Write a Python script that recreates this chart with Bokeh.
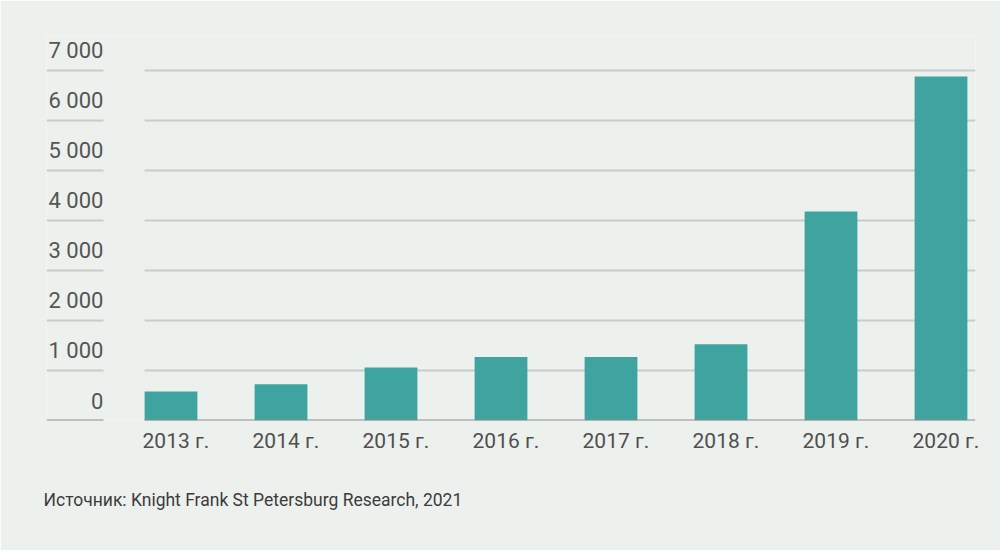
from bokeh.plotting import figure
from bokeh.models import Range1d, ColumnDataSource, FixedTicker, Title
from bokeh.core.properties import value
from bokeh.embed import file_html
from bokeh.resources import INLINE

years = ["2013 г.", "2014 г.", "2015 г.", "2016 г.", "2017 г.", "2018 г.", "2019 г.", "2020 г."]
values = [580, 725, 1060, 1270, 1270, 1525, 4180, 6880]
y_ticks = [0, 1000, 2000, 3000, 4000, 5000, 6000, 7000]
y_tick_labels = ["0", "1 000", "2 000", "3 000", "4 000", "5 000", "6 000", "7 000"]
source_text = "Источник: Knight Frank St Petersburg Research, 2021"

BG = "#edf1ee"
BAR = "#3fa3a0"
FONT = "Roboto"

x_idx = list(range(len(years)))
x_start, x_end = -1.1318, 7.3136
lab_right = -0.614
grid_left = -0.24
label_shift = 0.045

p = figure(width=1000, height=550, output_backend="svg", toolbar_location=None,
           x_range=Range1d(x_start, x_end), y_range=Range1d(0, 7680),
           y_axis_location=None, min_border_left=46, min_border_right=25,
           min_border_top=36, min_border_bottom=130)
p.background_fill_color = BG
p.border_fill_color = BG
p.outline_line_color = None
p.xgrid.visible = False
p.ygrid.visible = False

# grid lines (two pieces: under labels and across plot)
grid_src = ColumnDataSource(dict(
    y=y_ticks[1:],
    xa0=[x_start] * (len(y_ticks) - 1), xa1=[lab_right] * (len(y_ticks) - 1),
    xb0=[grid_left] * (len(y_ticks) - 1), xb1=[x_end] * (len(y_ticks) - 1)))
p.segment(x0="xa0", x1="xa1", y0="y", y1="y", source=grid_src, line_color="#c8cbca", line_width=2)
p.segment(x0="xb0", x1="xb1", y0="y", y1="y", source=grid_src, line_color="#c8cbca", line_width=2)

bars = ColumnDataSource(dict(x=x_idx, top=values))
p.vbar(x="x", top="top", bottom=0, width=0.48, source=bars, fill_color=BAR, line_color=None)

# baseline
base_src = ColumnDataSource(dict(x0=[x_start, grid_left], x1=[lab_right, x_end], y=[0, 0]))
p.segment(x0="x0", x1="x1", y0="y", y1="y", source=base_src, line_color="#8c8c8c", line_width=2)

# y tick labels above grid lines
lab_src = ColumnDataSource(dict(x=[lab_right] * len(y_ticks), y=y_ticks, t=y_tick_labels))
p.text(x="x", y="y", text="t", source=lab_src, text_align="right", text_baseline="alphabetic",
       y_offset=-20, text_font=value(FONT), text_font_size="22px", text_color="#555555")

# x axis
ticks = [i + label_shift for i in x_idx]
p.xaxis.ticker = FixedTicker(ticks=ticks)
p.xaxis.major_label_overrides = {t: y for t, y in zip(ticks, years)}
p.xaxis.axis_line_color = None
p.xaxis.major_tick_line_color = None
p.xaxis.minor_tick_line_color = None
p.xaxis.major_tick_out = 0
p.xaxis.major_label_standoff = 8
p.xaxis.major_label_text_font = FONT
p.xaxis.major_label_text_font_size = "21px"
p.xaxis.major_label_text_color = "#4f4f4f"

p.add_layout(Title(text=source_text, align="left", offset=-3, standoff=64,
                   text_font=FONT, text_font_size="17.5px", text_font_style="normal",
                   text_color="#3c3c3c"), "below")

open("out.html", "w").write(file_html(p, INLINE))
